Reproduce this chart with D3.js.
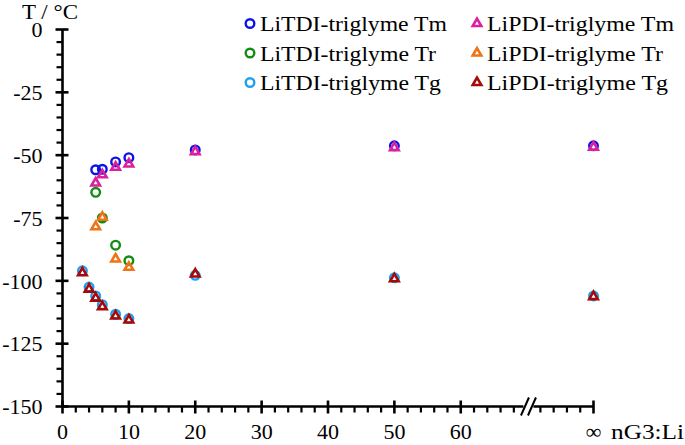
<!DOCTYPE html>
<html>
<head>
<meta charset="utf-8">
<script src="https://cdn.jsdelivr.net/npm/d3@7"></script>
<style>
  body { margin: 0; background: #fff; }
  text { font-family: "Liberation Serif", "Times New Roman", serif; font-size: 22px; fill: #000; }
</style>
</head>
<body>
<svg id="chart" width="685" height="445"></svg>
<script>
// nG3:Li ratios, Infinity = pure triglyme (drawn after the axis break)
const nShort = [5, 6, 8, 10];
const nTm = [5, 6, 8, 10, 20, 50, Infinity];
const nTg = [3, 4, 5, 6, 8, 10, 20, 50, Infinity];

const tdiTm = [-55.8, -55.6, -52.7, -51, -47.9, -46.3, -46.3];
const pdiTm = [-61.1, -57.8, -54.8, -53.5, -48.6, -47, -46.8];
const tdiTr = [-64.8, -75, -85.8, -92];
const pdiTr = [-78.5, -74.7, -91.3, -94.6];
const tdiTg = [-96, -102.5, -106, -109.5, -113.3, -115, -97.8, -98.8, -106];
const pdiTg = [-96.8, -103.3, -106.9, -110.3, -114, -115.6, -97.3, -99.2, -106.3];

const xMajor = [0, 10, 20, 30, 40, 50, 60, 80];
const xMinor = [2, 4, 6, 8, 12, 14, 16, 18, 22, 24, 26, 28, 32, 34, 36, 38, 42, 44, 46, 48,
                52, 54, 56, 58, 62, 64, 66, 68, 72, 74, 76, 78];
const yMajor = [0, -25, -50, -75, -100, -125, -150];
const yMinor = d3.range(-145, 0, 5).filter(v => v % 25 !== 0);

const series = [
  { name: "LiTDI-triglyme Tm", n: nTm, v: tdiTm, color: "#0a14e6", shape: "circle" },
  { name: "LiTDI-triglyme Tr", n: nShort, v: tdiTr, color: "#138c13", shape: "circle" },
  { name: "LiTDI-triglyme Tg", n: nTg, v: tdiTg, color: "#1ea0f0", shape: "circle" },
  { name: "LiPDI-triglyme Tm", n: nTm, v: pdiTm, color: "#dc1ea0", shape: "triangle" },
  { name: "LiPDI-triglyme Tr", n: nShort, v: pdiTr, color: "#f07314", shape: "triangle" },
  { name: "LiPDI-triglyme Tg", n: nTg, v: pdiTg, color: "#a50a0a", shape: "triangle" }
];
const legendWidth = { Tm: 187, Tr: 176, Tg: 181 };

const svg = d3.select("#chart");
const x = d3.scaleLinear().domain([0, 80]).range([62.5, 593.5]);
const y = d3.scaleLinear().domain([-150, 0]).range([406.5, 29.5]);
const xPos = n => x(isFinite(n) ? n : 80);

// y axis
const yAxis = svg.append("g").attr("transform", "translate(" + x(0) + ",0)");
yAxis.append("line").attr("y1", y(0)).attr("y2", y(-150))
  .attr("stroke", "#000").attr("stroke-width", 2.6);
yAxis.selectAll(".ymaj").data(yMajor).enter().append("line")
  .attr("x1", -7).attr("x2", 6).attr("y1", d => y(d)).attr("y2", d => y(d))
  .attr("stroke", "#000").attr("stroke-width", 2.6);
yAxis.selectAll(".ymin").data(yMinor).enter().append("line")
  .attr("x1", -6).attr("x2", 0).attr("y1", d => y(d)).attr("y2", d => y(d))
  .attr("stroke", "#000").attr("stroke-width", 2.2);
yAxis.selectAll(".ylab").data(yMajor).enter().append("text")
  .attr("x", -20).attr("y", d => y(d)).attr("dy", "0.35em")
  .attr("text-anchor", "end").text(d => d);

// x axis
const xAxis = svg.append("g").attr("transform", "translate(0," + y(-150) + ")");
xAxis.append("line").attr("x1", x(0)).attr("x2", x(80))
  .attr("stroke", "#000").attr("stroke-width", 2.6);
xAxis.selectAll(".xmaj").data(xMajor).enter().append("line")
  .attr("x1", d => x(d)).attr("x2", d => x(d)).attr("y1", -6).attr("y2", 7)
  .attr("stroke", "#000").attr("stroke-width", 2.6);
xAxis.selectAll(".xmin").data(xMinor).enter().append("line")
  .attr("x1", d => x(d)).attr("x2", d => x(d)).attr("y1", 0).attr("y2", 6)
  .attr("stroke", "#000").attr("stroke-width", 2.2);
xAxis.selectAll(".xlab").data(xMajor).enter().append("text")
  .attr("x", d => x(d)).attr("y", 32)
  .attr("text-anchor", "middle").text(d => d === 80 ? "\u221E" : d);

// axis break
const bx = x(70.2);
xAxis.append("rect").attr("x", bx - 5).attr("y", -3).attr("width", 10).attr("height", 6).attr("fill", "#fff");
[-3.5, 3.5].forEach(o => {
  xAxis.append("line")
    .attr("x1", bx + o - 4).attr("y1", 9).attr("x2", bx + o + 4).attr("y2", -9)
    .attr("stroke", "#000").attr("stroke-width", 2);
});

svg.append("text").attr("x", 611).attr("y", y(-150) + 32)
  .attr("textLength", 73).attr("lengthAdjust", "spacingAndGlyphs").text("nG3:Li");
svg.append("text").attr("x", 22).attr("y", 18.5)
  .attr("textLength", 56).attr("lengthAdjust", "spacingAndGlyphs").text("T / \u00B0C");

// markers
const tri = d3.symbol().type(d3.symbolTriangle).size(32);
function drawMarker(g, s, cx, cy) {
  if (s.shape === "circle") {
    g.append("circle").attr("cx", cx).attr("cy", cy).attr("r", 4.3)
      .attr("fill", "none").attr("stroke", s.color).attr("stroke-width", 2.4);
  } else {
    g.append("path").attr("d", tri()).attr("transform", "translate(" + cx + "," + cy + ")")
      .attr("fill", "none").attr("stroke", s.color).attr("stroke-width", 2.6);
  }
}

const marks = svg.append("g");
series.forEach(s => {
  s.n.forEach((n, i) => drawMarker(marks, s, xPos(n), y(s.v[i])));
});

// legend
const legend = svg.append("g");
series.forEach((s, i) => {
  const col = Math.floor(i / 3), row = i % 3;
  const mx = col === 0 ? 250 : 477;
  const my = 23.5 + row * 29.5;
  drawMarker(legend, s, mx, my);
  legend.append("text").attr("x", mx + 10).attr("y", my).attr("dy", "0.35em")
    .attr("textLength", legendWidth[s.name.slice(-2)]).attr("lengthAdjust", "spacingAndGlyphs")
    .text(s.name);
});
</script>
</body>
</html>
